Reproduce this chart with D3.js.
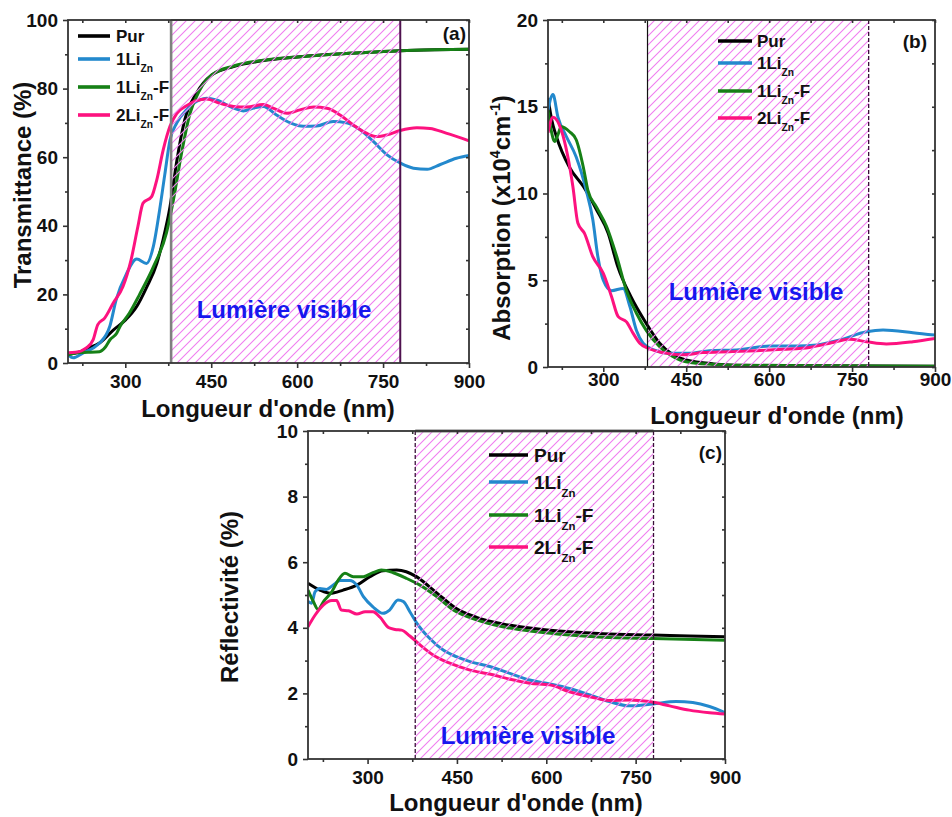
<!DOCTYPE html>
<html>
<head>
<meta charset="utf-8">
<script src="https://cdn.jsdelivr.net/npm/d3@7"></script>
<style>
  body { margin: 0; background: #fff; }
  svg text { font-family: "Liberation Sans", Arial, sans-serif; font-weight: bold; }
</style>
</head>
<body>
<svg id="fig" width="952" height="817"></svg>
<script>
// ---- shared axis values ----
const wavelengthDomain = [200, 900];
const visibleBand = [380, 780];
const xMajorTicks = [300, 450, 600, 750, 900];
const xMinorTicks = [225, 375, 525, 675, 825];

// ---- series naming (base text, subscript, tail) ----
const seriesLabels = [["Pur"], ["1Li", "Zn"], ["1Li", "Zn", "-F"], ["2Li", "Zn", "-F"]];
const seriesColors = ["#000000", "#2389cd", "#168016", "#fd127f"];
const bandText = "Lumière visible";

// ---- (a) transmittance, % vs nm ----
const transPur = [[200,2.4],[210,2.8],[220,3.2],[235,4.3],[255,5.8],[279,9.6],[300,12.5],[320,16.5],[337,22],[355,29],[366,36],[378,45.5],[390,59],[404,71],[424,78.6],[451,84],[489,86.4],[547,88.3],[605,89.3],[663,90],[720,90.5],[780,91],[840,91.3],[900,91.5]];
const trans1Li = [[200,2.4],[209,1.5],[226,2.9],[244,4.4],[255,5.8],[273,10.7],[284,18.4],[302,26],[320,30.3],[337,29],[349,34],[360,44.7],[369,55],[378,65],[390,70],[407,73.8],[430,76.7],[442,77.2],[459,76.7],[489,74.3],[506,73.5],[524,74.3],[541,74.8],[564,72.3],[588,70],[611,69],[634,69.1],[663,70.4],[686,70],[710,68],[733,64.6],[757,60.7],[780,58.3],[803,56.8],[827,56.5],[849,57.8],[878,59.7],[900,60.5]];
const trans1LiF = [[200,2.3],[215,3.0],[235,3.1],[255,3.3],[265,4.6],[273,6.7],[285,8.7],[291,10.7],[307,14.5],[325,20],[349,28],[372,38],[384,47.5],[398,61],[413,72.8],[430,79.6],[451,84],[489,86.6],[547,88.4],[605,89.3],[663,90],[720,90.5],[780,91],[840,91.3],[900,91.5]];
const trans2LiF = [[200,3],[213,3.1],[232,4.4],[244,6.8],[252,11.2],[264,13.1],[279,17.5],[296,22.3],[310,30],[322,39.8],[331,46.6],[346,48.5],[355,53.4],[366,62],[378,69],[390,72.8],[407,75],[424,76.5],[442,77],[465,75.7],[489,74.8],[512,74.6],[541,75.4],[558,74.3],[582,72.8],[605,73.8],[629,74.6],[652,74.3],[675,72.3],[698,69.4],[721,67],[739,66],[757,66.5],[780,67.8],[809,68.6],[832,68.4],[860,67],[900,64.8]];

// ---- (b) absorption, x10^4 cm^-1 vs nm ----
const absPur = [[200,15.5],[207,14.2],[215,13.3],[239,11.5],[264,10.4],[288,9.05],[309,7.7],[326,5.8],[350,4.05],[378,2.5],[402,1.37],[426,0.7],[450,0.4],[500,0.18],[560,0.1],[700,0.07],[900,0.05]];
const abs1Li = [[200,14.8],[209,15.7],[218,14.4],[233,13.3],[251,12.1],[269,10.2],[281,8.5],[290,6.4],[300,5.0],[315,4.4],[336,4.53],[348,3.5],[360,2.1],[372,1.37],[390,1.0],[420,0.79],[456,0.79],[492,0.94],[541,0.98],[601,1.21],[649,1.21],[686,1.27],[728,1.56],[776,2.03],[806,2.13],[860,1.98],[900,1.84]];
const abs1LiF = [[200,14.8],[206,13.6],[212,13.0],[218,13.4],[224,13.85],[239,13.56],[251,13.1],[264,11.5],[272,10.2],[288,9.2],[306,8.1],[324,6.4],[342,4.4],[360,3.1],[378,2.1],[402,1.17],[432,0.5],[468,0.21],[520,0.12],[600,0.08],[750,0.06],[900,0.05]];
const abs2LiF = [[200,13.5],[209,14.4],[224,13.66],[236,12.1],[245,10.4],[254,8.3],[266,7.7],[281,6.36],[300,5.4],[315,4.05],[327,2.9],[342,2.6],[354,1.94],[366,1.37],[381,1.08],[408,0.83],[444,0.7],[480,0.83],[528,0.88],[577,0.94],[625,1.02],[673,1.13],[721,1.46],[745,1.6],[776,1.46],[812,1.33],[860,1.46],[900,1.65]];

// ---- (c) reflectivity, % vs nm ----
const reflPur = [[200,5.36],[220,5.15],[237,5.05],[259,5.15],[282,5.3],[304,5.56],[326,5.74],[349,5.76],[365,5.71],[382,5.56],[404,5.25],[427,4.9],[449,4.59],[483,4.32],[527,4.12],[583,3.97],[639,3.88],[695,3.82],[779,3.78],[840,3.75],[900,3.73]];
const refl1Li = [[200,4.8],[206,4.75],[212,5.1],[220,5.2],[231,5.17],[242,5.3],[254,5.44],[270,5.44],[282,5.3],[293,4.95],[309,4.64],[326,4.44],[337,4.54],[351,4.85],[360,4.8],[371,4.49],[382,4.16],[404,3.68],[427,3.32],[449,3.12],[472,2.97],[505,2.82],[539,2.61],[572,2.41],[606,2.29],[639,2.15],[673,1.95],[706,1.75],[740,1.62],[779,1.68],[818,1.75],[846,1.72],[874,1.6],[900,1.41]];
const refl1LiF = [[200,5.15],[209,4.8],[217,4.56],[226,4.8],[240,5.1],[251,5.46],[262,5.66],[276,5.56],[293,5.56],[309,5.68],[323,5.76],[343,5.68],[365,5.51],[388,5.3],[416,4.95],[444,4.54],[483,4.24],[527,4.03],[583,3.88],[639,3.78],[695,3.71],[779,3.67],[900,3.62]];
const refl2LiF = [[200,4.03],[212,4.39],[226,4.7],[240,4.83],[248,4.83],[256,4.54],[268,4.52],[282,4.42],[296,4.49],[309,4.49],[321,4.32],[335,4.01],[346,3.95],[357,3.93],[371,3.75],[388,3.48],[410,3.17],[438,2.92],[472,2.71],[505,2.59],[539,2.43],[572,2.31],[606,2.26],[639,2.05],[673,1.9],[706,1.78],[740,1.8],[773,1.75],[807,1.62],[840,1.49],[874,1.41],[900,1.37]];

// ---- y-axis ticks ----
const transTicks = [0, 20, 40, 60, 80, 100];
const transMinor = [10, 30, 50, 70, 90];
const absTicks = [0, 5, 10, 15, 20];
const absMinor = [2.5, 7.5, 12.5, 17.5];
const reflTicks = [0, 2, 4, 6, 8, 10];
const reflMinor = [1, 3, 5, 7, 9];

const svg = d3.select("#fig");
const defs = svg.append("defs");

// diagonal hatch for the visible-light band
defs.append("pattern")
  .attr("id", "hatch")
  .attr("patternUnits", "userSpaceOnUse")
  .attr("width", 9).attr("height", 9)
  .append("path")
  .attr("d", "M-1,1 L1,-1 M0,9 L9,0 M8,10 L10,8")
  .attr("stroke", "#f07ef0")
  .attr("stroke-width", 1.1);

// text with optional subscript / superscript parts
function richText(sel, parts, subSize, subShift) {
  sel.append("tspan").text(parts[0]);
  if (parts[1]) sel.append("tspan").attr("font-size", subSize).attr("dy", subShift).text(parts[1]);
  if (parts[2]) sel.append("tspan").attr("dy", -subShift).text(parts[2]);
}

function drawPanel(p) {
  const x = d3.scaleLinear().domain(wavelengthDomain).range([p.left, p.right]);
  const y = d3.scaleLinear().domain(p.yDomain).range([p.bottom, p.top]);
  const g = svg.append("g");

  const clipId = "clip-" + p.id;
  defs.append("clipPath").attr("id", clipId)
    .append("rect").attr("x", p.left).attr("y", p.top)
    .attr("width", p.right - p.left).attr("height", p.bottom - p.top);

  // curves
  const line = d3.line().x(d => x(d[0])).y(d => y(d[1])).curve(d3.curveMonotoneX);
  const curves = g.append("g").attr("clip-path", `url(#${clipId})`);
  p.series.forEach((s, i) => {
    curves.append("path").attr("d", line(s))
      .attr("fill", "none").attr("stroke", seriesColors[i])
      .attr("stroke-width", 3).attr("stroke-linejoin", "round");
  });

  // hatched band over the curves
  const bx0 = x(visibleBand[0]), bx1 = x(visibleBand[1]);
  g.append("rect").attr("x", bx0).attr("y", p.top)
    .attr("width", bx1 - bx0).attr("height", p.bottom - p.top)
    .attr("fill", "url(#hatch)");
  if (p.bandTop) {
    g.append("line").attr("x1", bx0).attr("x2", bx1).attr("y1", p.top).attr("y2", p.top)
      .attr("stroke", p.bandTop.color).attr("stroke-width", p.bandTop.width);
  }
  [[bx0, p.bandLeft], [bx1, p.bandRight]].forEach(([bx, st]) => {
    g.append("line").attr("x1", bx).attr("x2", bx).attr("y1", p.top).attr("y2", p.bottom)
      .attr("stroke", st.color).attr("stroke-width", st.width)
      .attr("stroke-dasharray", st.dash || null);
  });

  // frame
  g.append("rect").attr("x", p.left).attr("y", p.top)
    .attr("width", p.right - p.left).attr("height", p.bottom - p.top)
    .attr("fill", "none").attr("stroke", "#333").attr("stroke-width", 1.8);

  const axisStyle = a => {
    a.select(".domain").remove();
    a.selectAll("line").attr("stroke", "#333").attr("stroke-width", 1.6);
    a.selectAll("text").attr("fill", "#111").attr("font-size", 19)
      .attr("font-family", "'Liberation Sans', Arial, sans-serif").attr("font-weight", "bold");
  };

  // bottom axis
  g.append("g").attr("transform", `translate(0,${p.bottom})`)
    .call(d3.axisBottom(x).tickValues(xMajorTicks).tickSize(5).tickPadding(p.xPad).tickFormat(d3.format("d")))
    .call(axisStyle);
  g.append("g").attr("transform", `translate(0,${p.bottom})`)
    .call(d3.axisBottom(x).tickValues(xMinorTicks).tickSize(3).tickFormat(""))
    .call(axisStyle);
  // top axis (inner ticks)
  g.append("g").attr("transform", `translate(0,${p.top})`)
    .call(d3.axisTop(x).tickValues(xMajorTicks.concat(xMinorTicks)).tickSize(-3).tickFormat(""))
    .call(axisStyle);
  // left axis
  g.append("g").attr("transform", `translate(${p.left},0)`)
    .call(d3.axisLeft(y).tickValues(p.yTicks).tickSize(5).tickPadding(5).tickFormat(d3.format("d")))
    .call(axisStyle);
  g.append("g").attr("transform", `translate(${p.left},0)`)
    .call(d3.axisLeft(y).tickValues(p.yMinor).tickSize(3).tickFormat(""))
    .call(axisStyle);
  // right axis (inner ticks)
  g.append("g").attr("transform", `translate(${p.right},0)`)
    .call(d3.axisRight(y).tickValues(p.yTicks.concat(p.yMinor)).tickSize(-3).tickFormat(""))
    .call(axisStyle);

  // band caption
  g.append("text").attr("x", p.bandLabel[0]).attr("y", p.bandLabel[1])
    .attr("text-anchor", "middle").attr("dy", "0.35em")
    .attr("font-size", 24).attr("fill", "#1717ee").text(bandText);

  // legend
  p.series.forEach((s, i) => {
    const ly = p.legend.ys[i];
    g.append("line").attr("x1", p.legend.x0).attr("x2", p.legend.x1)
      .attr("y1", ly).attr("y2", ly)
      .attr("stroke", seriesColors[i]).attr("stroke-width", 3.6);
    const t = g.append("text").attr("x", p.legend.tx).attr("y", ly + p.legend.size * 0.36)
      .attr("font-size", p.legend.size).attr("fill", "#111");
    richText(t, seriesLabels[i], p.legend.size * 0.6, p.legend.size * 0.42);
  });

  // panel tag
  g.append("text").attr("x", p.tag[0]).attr("y", p.tag[1])
    .attr("text-anchor", "end").attr("font-size", 19).attr("fill", "#111").text(p.tagText);

  // axis titles
  g.append("text").attr("x", p.xTitle[0]).attr("y", p.xTitle[1])
    .attr("text-anchor", "middle").attr("font-size", 24).attr("fill", "#111")
    .text("Longueur d'onde (nm)");
  const yt = g.append("text")
    .attr("transform", `translate(${p.yTitle[0]},${p.yTitle[1]}) rotate(-90)`)
    .attr("text-anchor", "middle").attr("dy", "0.35em")
    .attr("font-size", 24).attr("fill", "#111");
  p.yTitleParts.forEach(part => {
    const ts = yt.append("tspan").text(part.t);
    if (part.sup) ts.attr("font-size", 14).attr("dy", -10);
    if (part.after) ts.attr("dy", 10);
  });
}

drawPanel({
  id: "a", left: 68, right: 469, top: 20, bottom: 363,
  yDomain: [0, 100], yTicks: transTicks, yMinor: transMinor,
  series: [transPur, trans1Li, trans1LiF, trans2LiF],
  bandLeft: { color: "#808080", width: 2.6 }, bandRight: { color: "#4f124f", width: 2 },
  bandTop: { color: "#777", width: 2 },
  bandLabel: [284, 310],
  legend: { x0: 78, x1: 110, tx: 116, ys: [36, 59, 87, 115], size: 17 },
  tag: [466, 40], tagText: "(a)",
  xPad: 7, xTitle: [268, 417],
  yTitle: [23, 185], yTitleParts: [{ t: "Transmittance (%)" }]
});

drawPanel({
  id: "b", left: 548, right: 935, top: 20, bottom: 367,
  yDomain: [0, 20], yTicks: absTicks, yMinor: absMinor,
  series: [absPur, abs1Li, abs1LiF, abs2LiF],
  bandLeft: { color: "#111", width: 1.2 }, bandRight: { color: "#3a103a", width: 1.3, dash: "4,2" },
  bandTop: null,
  bandLabel: [756, 292],
  legend: { x0: 718, x1: 752, tx: 757, ys: [41, 63, 91, 118], size: 17 },
  tag: [927, 48], tagText: "(b)",
  xPad: 1, xTitle: [777, 424],
  yTitle: [502, 218],
  yTitleParts: [{ t: "Absorption (x10" }, { t: "4", sup: true }, { t: "cm", after: true }, { t: "-1", sup: true }, { t: ")", after: true }]
});

drawPanel({
  id: "c", left: 308, right: 725, top: 431, bottom: 759,
  yDomain: [0, 10], yTicks: reflTicks, yMinor: reflMinor,
  series: [reflPur, refl1Li, refl1LiF, refl2LiF],
  bandLeft: { color: "#3a103a", width: 1.3, dash: "4,2" }, bandRight: { color: "#3a103a", width: 1.3, dash: "4,2" },
  bandTop: { color: "#777", width: 3 },
  bandLabel: [528, 736],
  legend: { x0: 489, x1: 528, tx: 534, ys: [455, 482, 515, 547], size: 19 },
  tag: [722, 459], tagText: "(c)",
  xPad: 7, xTitle: [516, 811],
  yTitle: [230, 597], yTitleParts: [{ t: "Réflectivité (%)" }]
});
</script>
</body>
</html>
